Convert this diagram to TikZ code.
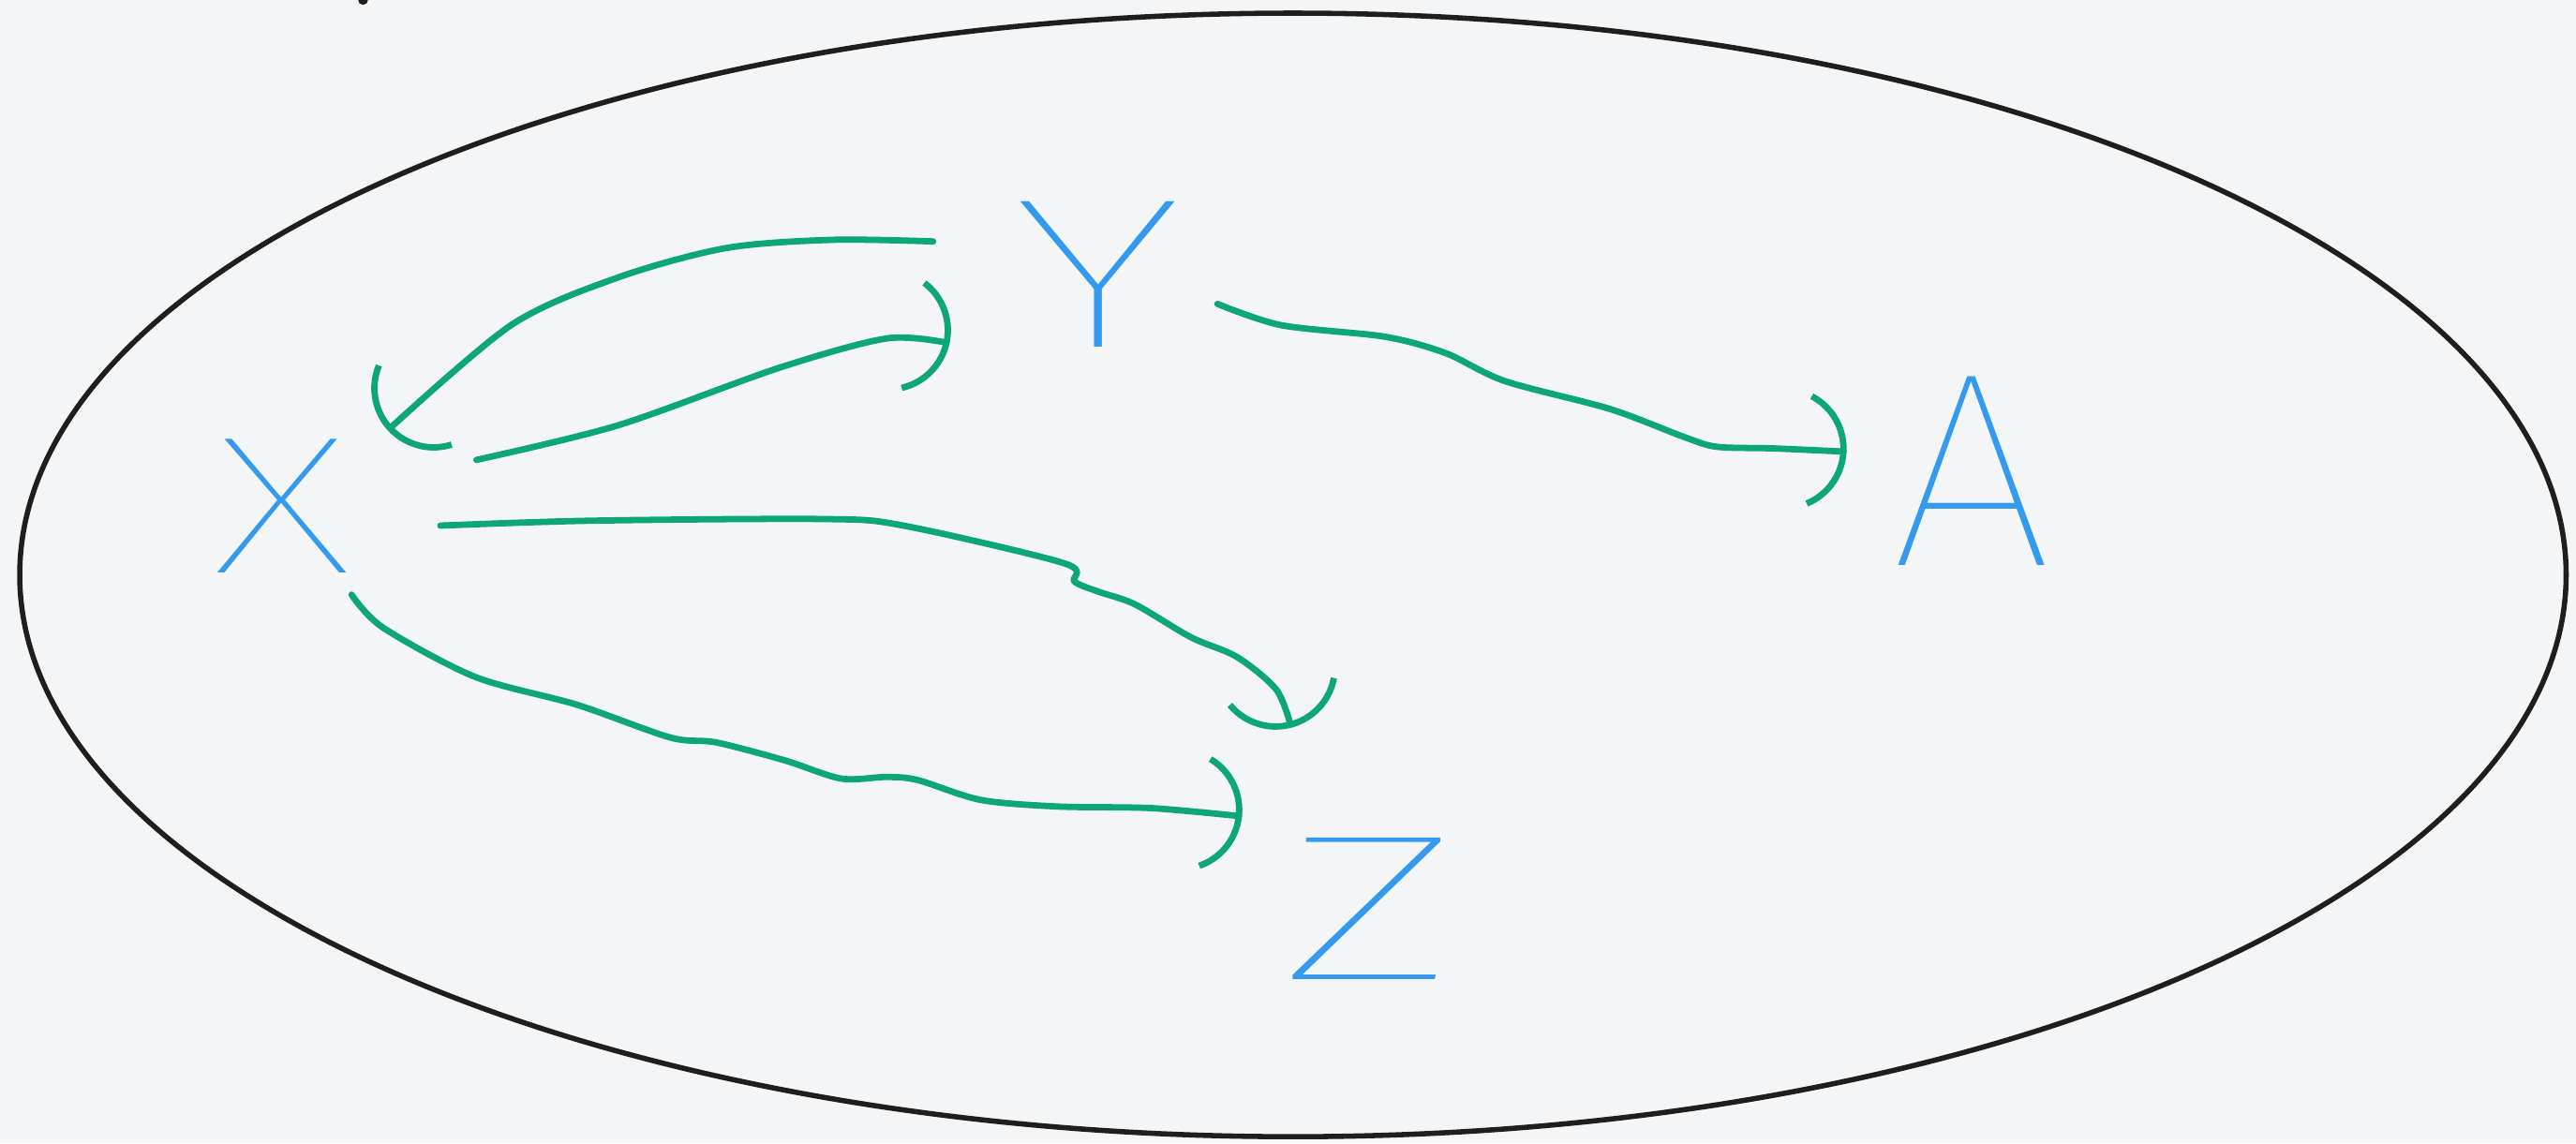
\documentclass[tikz,border=0pt]{standalone}
\usepackage{fontspec}
\newfontfamily\handfont{Fira Sans Thin}
\usetikzlibrary{arrows.meta}
\definecolor{paper}{HTML}{F3F5F7}
\definecolor{ink}{HTML}{1E1E1E}
\definecolor{inkblue}{HTML}{339AF0}
\definecolor{inkgreen}{HTML}{0CA678}

\begin{document}
\begin{tikzpicture}[x=.1mm,y=-.1mm,>={Arc Barb[arc=130,length=3.8mm,width=7.6mm]},
  wire/.style={->,draw=inkgreen,line width=1.1pt,line cap=round,line join=round},
  letter/.style={text=inkblue,inner sep=0pt,transform shape}]
\fill[paper] (0,0) rectangle (1568,696);\useasboundingbox (0,0) rectangle (1568,696);
\draw[ink,line width=.9pt] (787,350) ellipse [x radius=775,y radius=342];
\fill[ink] (221,0) circle (3);
\foreach \t/\x/\y/\s/\w in {X/172/308/34/1.45,Y/668/167/37/1.6,A/1200/287/48/1.05,Z/833/553/36/1.7}{\node[letter,xscale=\w,font=\handfont\fontsize{\s}{\s}\selectfont] (\t) at (\x,\y) {\t};}
\draw[wire] plot[smooth] coordinates {([shift={(-100,-20)}]Y.center) (507,146) (442,151) (376,169) (311,198) ([shift={(64,-46)}]X.center)};
\draw[wire] plot[smooth] coordinates {([shift={(118,-28)}]X.center) (376,259) (474,224) (540,206) ([shift={(-90,42)}]Y.center)};
\draw[wire] plot[smooth] coordinates {([shift={(73,18)}]Y.center) (780,198) (843,205) (880,215) (916,232) (980,249) (1025,266) (1045,272) (1080,273) ([shift={(-76,-12)}]A.center)};
\draw[wire] plot[smooth] coordinates {([shift={(96,12)}]X.center) (360,317) (502,316) (550,320) (648,343) (654,354) (668,360) (691,368) (725,388) (753,400) (777,420) ([shift={(-47,-110)}]Z.center)};
\draw[wire] plot[smooth] coordinates {([shift={(42,54)}]X.center) (233,382) (289,412) (351,429) (408,449) (436,452) (478,463) (512,474) (540,473) (559,475) (597,487) (644,491) (701,492) ([shift={(-77,-56)}]Z.center)};
\end{tikzpicture}
\end{document}
